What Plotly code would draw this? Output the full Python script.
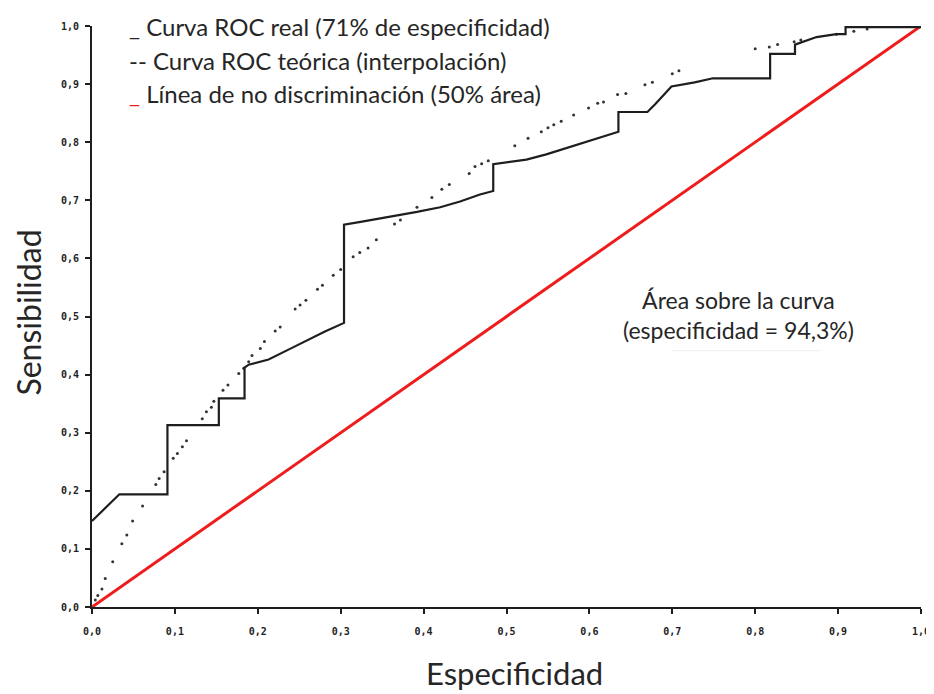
import plotly.graph_objects as go

# Real ROC curve (solid)
real_x = [0.000, 0.033, 0.091, 0.091, 0.153, 0.153, 0.184, 0.184, 0.189, 0.213, 0.237, 0.261, 0.281, 0.304,
          0.304, 0.324, 0.365, 0.392, 0.420, 0.444, 0.468, 0.484, 0.484, 0.500, 0.524, 0.548, 0.572, 0.604,
          0.635, 0.635, 0.670, 0.679, 0.689, 0.699, 0.727, 0.749, 0.818, 0.818, 0.848, 0.848, 0.874, 0.898,
          0.909, 0.909, 1.000]
real_y = [0.148, 0.194, 0.194, 0.313, 0.313, 0.359, 0.359, 0.412, 0.417, 0.426, 0.443, 0.460, 0.474, 0.489,
          0.658, 0.663, 0.673, 0.680, 0.688, 0.698, 0.710, 0.716, 0.762, 0.765, 0.770, 0.779, 0.790, 0.804,
          0.818, 0.852, 0.852, 0.865, 0.881, 0.896, 0.903, 0.910, 0.910, 0.952, 0.952, 0.968, 0.981, 0.986,
          0.986, 0.998, 0.998]

# Theoretical ROC curve (dotted)
theo_x = [0.004, 0.007, 0.012, 0.016, 0.025, 0.036, 0.042, 0.049, 0.061, 0.077, 0.081, 0.087, 0.098, 0.103,
          0.109, 0.114, 0.133, 0.138, 0.144, 0.147, 0.158, 0.164, 0.177, 0.183, 0.189, 0.193, 0.203, 0.208,
          0.221, 0.227, 0.245, 0.251, 0.258, 0.272, 0.278, 0.291, 0.300, 0.315, 0.323, 0.333, 0.343, 0.365,
          0.372, 0.392, 0.410, 0.422, 0.431, 0.455, 0.462, 0.470, 0.478, 0.510, 0.526, 0.542, 0.550, 0.557,
          0.566, 0.581, 0.599, 0.610, 0.617, 0.634, 0.644, 0.667, 0.676, 0.700, 0.708, 0.800, 0.817, 0.827,
          0.847, 0.855, 0.898, 0.919, 0.935]
theo_y = [0.012, 0.020, 0.031, 0.049, 0.078, 0.109, 0.124, 0.148, 0.174, 0.211, 0.221, 0.233, 0.256, 0.264,
          0.276, 0.286, 0.324, 0.336, 0.344, 0.354, 0.373, 0.382, 0.402, 0.411, 0.422, 0.433, 0.445, 0.457,
          0.475, 0.482, 0.513, 0.520, 0.528, 0.547, 0.554, 0.571, 0.581, 0.603, 0.610, 0.618, 0.632, 0.659,
          0.666, 0.688, 0.705, 0.719, 0.727, 0.746, 0.758, 0.763, 0.768, 0.794, 0.807, 0.818, 0.825, 0.830,
          0.836, 0.847, 0.859, 0.867, 0.869, 0.882, 0.884, 0.899, 0.903, 0.918, 0.923, 0.961, 0.964, 0.968,
          0.973, 0.976, 0.986, 0.991, 0.995]

# No-discrimination line
diag_x = [0.0, 1.0]
diag_y = [0.0, 1.0]

tick_vals = [0.0, 0.1, 0.2, 0.3, 0.4, 0.5, 0.6, 0.7, 0.8, 0.9, 1.0]
tick_text = ["0,0", "0,1", "0,2", "0,3", "0,4", "0,5", "0,6", "0,7", "0,8", "0,9", "1,0"]

legend_lines = [
    "_ Curva ROC real (71% de especificidad)",
    "-- Curva ROC teórica (interpolación)",
    "<span style='color:#ee1c1c'>_</span> Línea de no discriminación (50% área)",
]
area_text = "Área sobre la curva<br>(especificidad = 94,3%)"

FONT = "Lato"
TXT = "#262626"

fig = go.Figure()
fig.add_trace(go.Scatter(x=diag_x, y=diag_y, mode="lines",
                         line=dict(color="#ee1c1c", width=3), cliponaxis=False, showlegend=False))
fig.add_trace(go.Scatter(x=theo_x, y=theo_y, mode="markers",
                         marker=dict(color="#333333", size=3), cliponaxis=False, showlegend=False))
fig.add_trace(go.Scatter(x=real_x, y=real_y, mode="lines",
                         line=dict(color="#1e1e1e", width=2.2), cliponaxis=False, showlegend=False))

# page shows figure offset by the body margin
OFF = 8
W, H = 934, 694
# target plot area in screenshot pixels: x 92..928, y 20..607
L = 92 - OFF
T = 20 - OFF
R = W - (928 - OFF)
B = H - (607 - OFF)
pw, ph = W - L - R, H - T - B

def px2paper(px, py):
    return (px - OFF - L) / pw, (H - B - (py - OFF)) / ph

anns = []
for txt, py in zip(legend_lines, [21, 55, 88]):
    x, y = px2paper(127, py)
    anns.append(dict(x=x, y=y, xref="paper", yref="paper", text=txt, showarrow=False,
                     xanchor="left", yanchor="middle", font=dict(family=FONT, size=24, color=TXT)))
x, y = px2paper(744, 312)
anns.append(dict(x=x, y=y, xref="paper", yref="paper", text=area_text, showarrow=False,
                 xanchor="center", yanchor="middle", align="center",
                 font=dict(family=FONT, size=23, color=TXT)))
x, y = px2paper(518, 674)
anns.append(dict(x=x, y=y, xref="paper", yref="paper", text="Especificidad", showarrow=False,
                 xanchor="center", yanchor="middle", font=dict(family=FONT, size=31, color=TXT)))
x, y = px2paper(27, 310)
anns.append(dict(x=x, y=y, xref="paper", yref="paper", text="Sensibilidad", showarrow=False,
                 textangle=-90, xanchor="center", yanchor="middle",
                 font=dict(family=FONT, size=32, color=TXT)))

x0, y0 = px2paper(677, 348)
x1, _ = px2paper(827, 348)
shapes = [dict(type="line", xref="paper", yref="paper", x0=x0, x1=x1, y0=y0, y1=y0,
               line=dict(color="#f0f0f0", width=1))]

axis_common = dict(range=[0, 1], tickvals=tick_vals, ticktext=tick_text, showgrid=False, zeroline=False,
                   showline=True, linecolor="#1e1e1e", linewidth=2, ticks="outside", ticklen=5,
                   tickwidth=2, tickcolor="#1e1e1e",
                   tickfont=dict(family="DejaVu Sans Mono", size=10, color="#1e1e1e", weight="bold"))

fig.update_layout(
    width=W, height=H, margin=dict(l=L, r=R, t=T, b=B),
    plot_bgcolor="white", paper_bgcolor="white",
    xaxis=dict(**axis_common, ticklabelstandoff=9),
    yaxis=dict(**axis_common, ticklabelstandoff=4),
    annotations=anns, shapes=shapes, showlegend=False,
)
fig.write_html("out.html")
